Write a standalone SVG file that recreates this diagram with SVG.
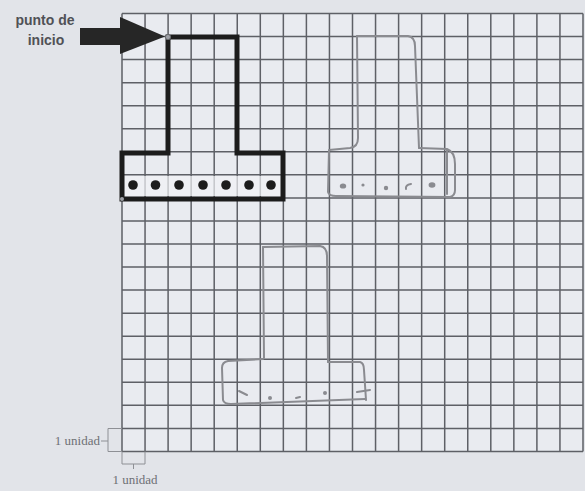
<svg xmlns="http://www.w3.org/2000/svg" width="585" height="491" viewBox="0 0 585 491">
  <style>
    .grid { stroke: #5e6066; stroke-width: 1.5; fill: none; }
    .pencil { stroke: #8a8b90; stroke-width: 2; fill: none; stroke-linecap: round; stroke-linejoin: round; }
    .pdot { fill: #8a8b90; }
    .bold { stroke: #1c1c1c; stroke-width: 5; fill: none; stroke-linejoin: miter; }
    .dot { fill: #1c1c1c; }
    .unit { stroke: #8e9095; stroke-width: 1; fill: none; }
    .label { font-family: "Liberation Sans", Arial, sans-serif; font-weight: bold; font-size: 14px; fill: #505156; }
    .ulabel { font-family: "Liberation Serif", "Times New Roman", serif; font-size: 13px; fill: #6e7075; }
  </style>

  <rect x="0" y="0" width="585" height="491" fill="#e2e4e9"/>

  <g id="grid">
    <rect x="122" y="13.5" width="461" height="438" fill="#e9ebf0"/>
    <path class="grid" d="
      M122,13.5V451.5 M145.05,13.5V451.5 M168.1,13.5V451.5 M191.15,13.5V451.5 M214.2,13.5V451.5
      M237.25,13.5V451.5 M260.3,13.5V451.5 M283.35,13.5V451.5 M306.4,13.5V451.5 M329.45,13.5V451.5
      M352.5,13.5V451.5 M375.55,13.5V451.5 M398.6,13.5V451.5 M421.65,13.5V451.5 M444.7,13.5V451.5
      M467.75,13.5V451.5 M490.8,13.5V451.5 M513.85,13.5V451.5 M536.9,13.5V451.5 M559.95,13.5V451.5 M583,13.5V451.5
      M122,13.5H583 M122,36.55H583 M122,59.6H583 M122,82.65H583 M122,105.7H583 M122,128.75H583
      M122,151.8H583 M122,174.85H583 M122,197.9H583 M122,220.95H583 M122,244H583 M122,267.05H583
      M122,290.1H583 M122,313.15H583 M122,336.2H583 M122,359.25H583 M122,382.3H583 M122,405.35H583
      M122,428.4H583 M122,451.45H583"/>
  </g>

  <g id="sketch-1">
    <path class="pencil" d="M357,36 L358,138 Q358,147 350,148 L329,150 L328,192 Q329,196 336,196 L450,197 Q455,196 455,190 L455,164 Q455,152 447,149 L419,148"/>
    <path class="pencil" d="M357,36 L408,36 Q415,37 415,46 L419,148"/>
    <path class="pencil" d="M447,150 L447,194"/>
    <ellipse class="pdot" cx="343" cy="186" rx="3.2" ry="2.6"/>
    <circle class="pdot" cx="363" cy="185" r="1.6"/>
    <circle class="pdot" cx="386" cy="188" r="2.2"/>
    <path class="pencil" d="M411,184 Q405,185 406,189"/>
    <ellipse class="pdot" cx="432" cy="185" rx="3.4" ry="2.8"/>
  </g>

  <g id="sketch-2">
    <path class="pencil" d="M263,247 L264,358"/>
    <path class="pencil" d="M263,247 L320,246 Q327,247 327,256 L328,362"/>
    <path class="pencil" d="M263,359 L228,361 Q222,362 222,368 L223,400 Q224,404 231,404 L365,399"/>
    <path class="pencil" d="M328,362 L360,362 Q364,363 364,370 L366,400"/>
    <path class="pencil" d="M239,391 L247,395"/>
    <circle class="pdot" cx="270" cy="398" r="2"/>
    <path class="pencil" d="M296,398 L300,397"/>
    <circle class="pdot" cx="325" cy="393" r="2"/>
    <path class="pencil" d="M357,392 L370,390"/>
  </g>

  <g id="t-shape">
    <rect x="125" y="176" width="156" height="20" fill="#f1f2f5" opacity="0.7"/>
    <path class="bold" d="M168,37 L237,37 L237,153 L283,153 L283,199 L122,199 L122,153 L168,153 Z"/>
    <circle class="dot" cx="133" cy="185" r="4.8"/>
    <circle class="dot" cx="155.5" cy="185" r="4.8"/>
    <circle class="dot" cx="179" cy="185" r="4.8"/>
    <circle class="dot" cx="203" cy="185" r="4.8"/>
    <circle class="dot" cx="226" cy="185" r="4.8"/>
    <circle class="dot" cx="249" cy="185" r="4.8"/>
    <circle class="dot" cx="271" cy="185" r="4.8"/>
    <circle cx="168" cy="37" r="2.6" fill="#a0a2a8" stroke="#6a6c70" stroke-width="1"/>
    <circle cx="122" cy="199" r="2" fill="#a0a2a8"/>
  </g>

  <g id="start-label">
    <text class="label" x="45" y="25" text-anchor="middle">punto de</text>
    <text class="label" x="46" y="45" text-anchor="middle">inicio</text>
  </g>

  <g id="connectors">
    <rect x="80" y="28" width="42" height="17" fill="#262626"/>
    <polygon points="120,17 165,36.5 120,54" fill="#262626"/>
  </g>

  <g id="unit-left">
    <path class="unit" d="M122,428.5 H108 V451.5 H122 M101,441 H108"/>
    <text class="ulabel" x="100" y="445" text-anchor="end">1 unidad</text>
  </g>

  <g id="unit-bottom">
    <path class="unit" d="M122,451.5 V464 H145 V451.5 M133.5,464 V469"/>
    <text class="ulabel" x="135" y="484" text-anchor="middle">1 unidad</text>
  </g>
</svg>
